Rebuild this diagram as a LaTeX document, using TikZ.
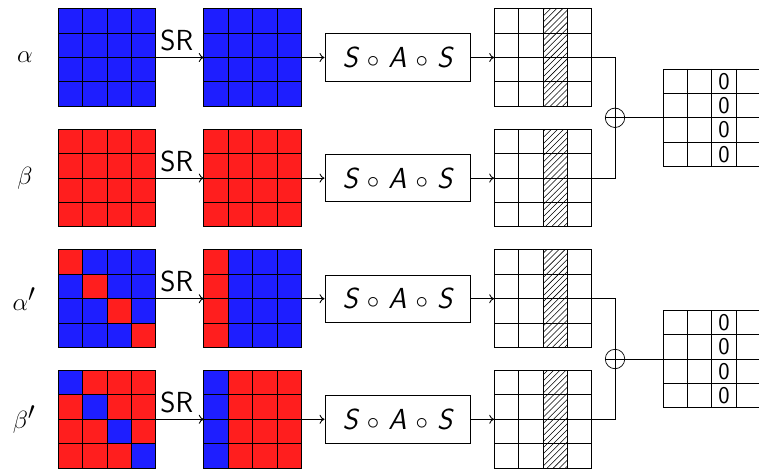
\documentclass[tikz,border=0pt]{standalone}
\usetikzlibrary{patterns.meta,arrows.meta}
\definecolor{myblue}{RGB}{30,30,255}
\definecolor{myred}{RGB}{255,30,30}
\tikzset{
  gline/.style={draw=black, line width=0.9pt},
  gbox/.style={gline, minimum width=97.6pt, minimum height=97.6pt, inner sep=0pt, outer sep=0pt},
  fnbox/.style={gline, minimum width=145pt, minimum height=47.5pt, inner sep=0pt,
    font=\fontsize{29}{34}\selectfont\sffamily\itshape},
  conn/.style={-{To[length=5pt,width=9pt]}, line width=0.9pt},
  glbl/.style={font=\fontsize{36}{42}\selectfont},
  srlbl/.style={font=\fontsize{29}{35}\selectfont\sffamily, above=6pt, xshift=-3pt, inner sep=0pt},
  zlbl/.style={font=\fontsize{24}{28}\selectfont\sffamily, inner sep=0pt},
  opl/.style={circle, draw=black, line width=0.7pt, minimum size=19.4pt, inner sep=0pt, outer sep=0pt},
}
\newcommand{\innerlines}[2]{%
  \foreach \k in {1,2,3}{%
    \draw[gline] ({#1-48.8+24.4*\k},{#2-48.8}) -- ++(0,97.6);
    \draw[gline] ({#1-48.8},{#2-48.8+24.4*\k}) -- ++(97.6,0);
  }%
  \draw[gline] ({#1-48.8},{#2-48.8}) rectangle ++(97.6,97.6);
}
\newcommand{\cellfill}[5]{%
  \fill[#1] ({#2-48.8+24.4*#4},{#3-48.8+24.4*#5}) rectangle ++(24.4,24.4);
}
\newcommand{\hatchcol}[2]{%
  \fill[pattern={Lines[angle=45, distance=4.3pt, line width=0.55pt]}, pattern color=black] ({#1-48.8+24.4*2},{#2-48.8}) rectangle ++(24.4,97.6);
}
\begin{document}
\begin{tikzpicture}[x=1pt,y=-1pt]
\useasboundingbox (0,0) rectangle (759,468);
\fill[white] (0,0) rectangle (759,468);

% labels
\node[glbl] (la1) at (25,57.5) {$\alpha$};
\node[glbl] (lb1) at (25,178.1) {$\beta$};
\node[glbl] (la2) at (24,298.7) {$\alpha'$};
\node[glbl] (lb2) at (24,419.3) {$\beta'$};

% ---------- row 1: alpha ----------
\node[gbox, fill=myblue] (g11) at (107,57.5) {};
\innerlines{107}{57.5}
\node[gbox, fill=myblue] (g12) at (252.6,57.5) {};
\innerlines{252.6}{57.5}
\node[fnbox] (b1) at (397.5,57.5) {S $\circ$ A $\circ$ S};
\node[gbox, fill=white] (h1) at (543,57.5) {};
\hatchcol{543}{57.5}
\innerlines{543}{57.5}

% ---------- row 2: beta ----------
\node[gbox, fill=myred] (g21) at (107,178.1) {};
\innerlines{107}{178.1}
\node[gbox, fill=myred] (g22) at (252.6,178.1) {};
\innerlines{252.6}{178.1}
\node[fnbox] (b2) at (397.5,178.1) {S $\circ$ A $\circ$ S};
\node[gbox, fill=white] (h2) at (543,178.1) {};
\hatchcol{543}{178.1}
\innerlines{543}{178.1}

% ---------- row 3: alpha' ----------
\node[gbox, fill=myblue] (g31) at (107,298.7) {};
\foreach \d in {0,1,2,3}{\cellfill{myred}{107}{298.7}{\d}{\d}}
\innerlines{107}{298.7}
\node[gbox, fill=myblue] (g32) at (252.6,298.7) {};
\foreach \d in {0,1,2,3}{\cellfill{myred}{252.6}{298.7}{0}{\d}}
\innerlines{252.6}{298.7}
\node[fnbox] (b3) at (397.5,298.7) {S $\circ$ A $\circ$ S};
\node[gbox, fill=white] (h3) at (543,298.7) {};
\hatchcol{543}{298.7}
\innerlines{543}{298.7}

% ---------- row 4: beta' ----------
\node[gbox, fill=myred] (g41) at (107,419.3) {};
\foreach \d in {0,1,2,3}{\cellfill{myblue}{107}{419.3}{\d}{\d}}
\innerlines{107}{419.3}
\node[gbox, fill=myred] (g42) at (252.6,419.3) {};
\foreach \d in {0,1,2,3}{\cellfill{myblue}{252.6}{419.3}{0}{\d}}
\innerlines{252.6}{419.3}
\node[fnbox] (b4) at (397.5,419.3) {S $\circ$ A $\circ$ S};
\node[gbox, fill=white] (h4) at (543,419.3) {};
\hatchcol{543}{419.3}
\innerlines{543}{419.3}

% connectors rows
\foreach \r in {1,2,3,4}{
  \draw[conn] (g\r1.east) -- node[srlbl] {SR} (g\r2.west);
  \draw[conn] (g\r2.east) -- (b\r.west);
  \draw[conn] (b\r.east) -- (h\r.west);
}

% xor nodes
\node[opl] (o1) at (615,117.8) {};
\node[opl] (o2) at (615,359.0) {};
\draw[gline] (h1.east) -| (o1.north);
\draw[gline] (h2.east) -| (o1.south);
\draw[gline] (h3.east) -| (o2.north);
\draw[gline] (h4.east) -| (o2.south);
\draw[line width=0.7pt] (o1.north) -- (o1.south);
\draw[line width=0.7pt] (o2.north) -- (o2.south);

% right grids
\node[gbox, fill=white] (r1) at (711.8,117.8) {};
\innerlines{711.8}{117.8}
\node[gbox, fill=white] (r2) at (711.8,359.0) {};
\innerlines{711.8}{359.0}
\draw[line width=0.7pt] (o1.west) -- (r1.west);
\draw[line width=0.7pt] (o2.west) -- (r2.west);

\foreach \j in {0,1,2,3}{
  \node[zlbl] (z1\j) at (724,{117.8-36.6+24.4*\j}) {0};
  \node[zlbl] (z2\j) at (724,{359.0-36.6+24.4*\j}) {0};
}
\end{tikzpicture}
\end{document}
